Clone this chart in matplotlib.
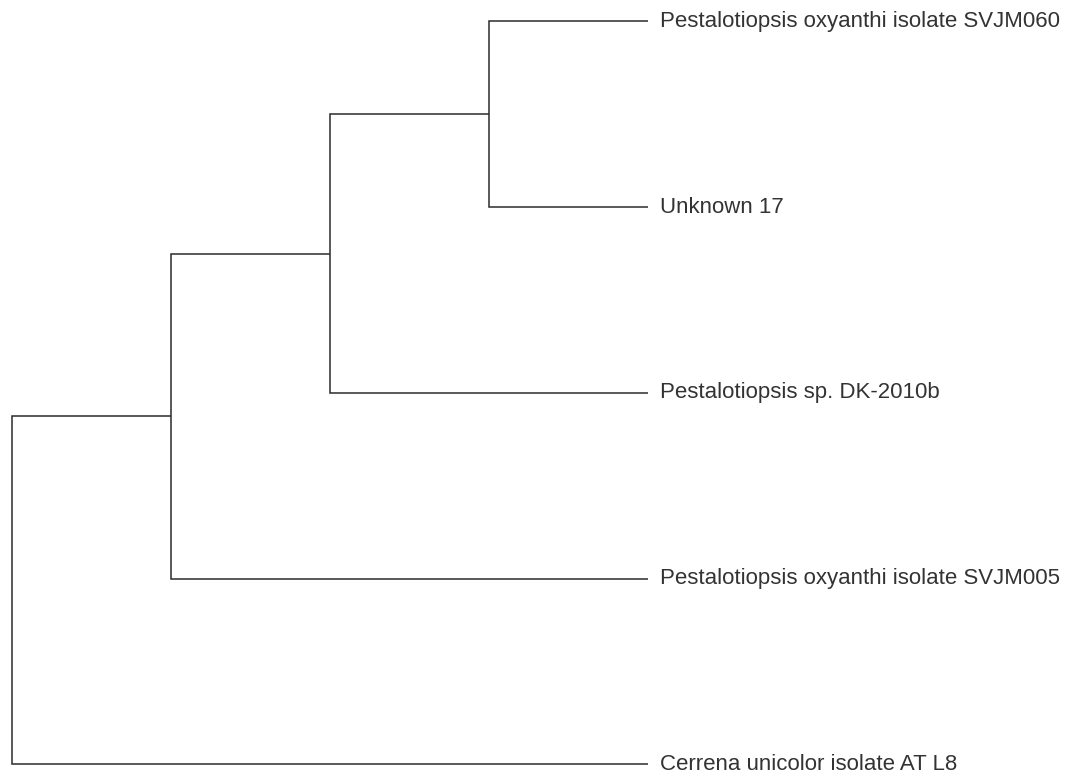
import numpy as np
import matplotlib.pyplot as plt

plt.rcParams['font.family'] = ['Liberation Sans', 'DejaVu Sans']

# leaves, top to bottom
labels = ['Pestalotiopsis oxyanthi isolate SVJM060',
          'Unknown 17',
          'Pestalotiopsis sp. DK-2010b',
          'Pestalotiopsis oxyanthi isolate SVJM005',
          'Cerrena unicolor isolate AT L8']
# merges: (left child, right child, height); negative ids are leaves (-(i+1))
merge_a = [-1, 1, 2, 3]
merge_b = [-2, -3, -4, -5]
heights = [1, 2, 3, 4]

fig = plt.figure(figsize=(10.76, 7.8), dpi=100)
ax = fig.add_axes([0, 0, 1, 1])
col = '#2b2b2b'

def pos(node):
    # returns (x, y) of a node
    if node < 0:
        return 0.0, float(-node - 1)
    return node_pos[node - 1]

node_pos = []
for a, b, h in zip(merge_a, merge_b, heights):
    xa, ya = pos(a)
    xb, yb = pos(b)
    ax.plot([xa, h, h, xb], [ya, ya, yb, yb], color=col, lw=1.1,
            solid_joinstyle='miter', solid_capstyle='butt')
    node_pos.append((h, (ya + yb) / 2))

for i, lab in enumerate(labels):
    ax.text(-0.075, i, lab, ha='left', va='center', fontsize=16, color='#333333')

ax.set_xlim(4.075, -2.692)
ax.set_ylim(4.085, -0.115)
ax.axis('off')

plt.savefig('out.png', dpi=100)
